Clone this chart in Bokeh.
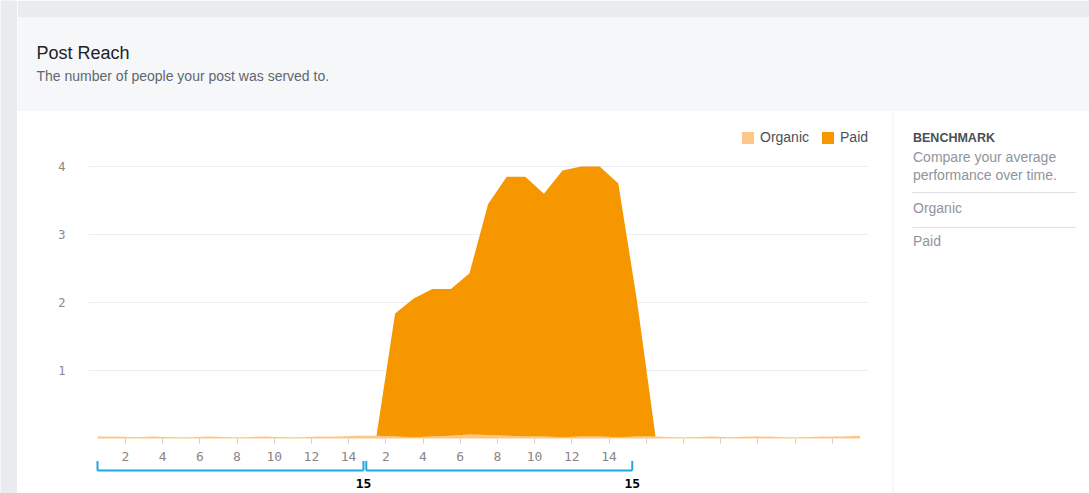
from bokeh.plotting import figure
from bokeh.models import ColumnDataSource, FixedTicker, Range1d
from bokeh.layouts import row, column
from bokeh.embed import file_html
from bokeh.resources import INLINE
from bokeh.core.properties import value

# ---------------- data ----------------
days = list(range(42))
organic = [0.03, 0.03, 0.02, 0.03, 0.02, 0.02, 0.03, 0.02, 0.02, 0.03, 0.02, 0.02,
           0.03, 0.03, 0.04, 0.04, 0.03, 0.02, 0.03, 0.04, 0.06, 0.05, 0.04, 0.03,
           0.03, 0.02, 0.03, 0.03, 0.02, 0.03, 0.03, 0.02, 0.02, 0.03, 0.02, 0.03,
           0.03, 0.02, 0.02, 0.03, 0.03, 0.04]
paid = ([0.0] * 16 +
        [1.81, 2.04, 2.17, 2.16, 2.37, 3.40, 3.81, 3.82, 3.57, 3.92, 3.97, 3.97, 3.73, 2.00] +
        [0.0] * 12)
series_names = ["Organic", "Paid"]

y_ticks = [1, 2, 3, 4]
x_tick_pos = [-0.5, 1.5, 3.5, 5.5, 7.5, 9.5, 11.5, 13.5, 15.5, 17.5, 19.5, 21.5,
              23.5, 25.5, 27.5, 29.5, 31.5, 33.5, 35.5, 37.5, 39.5, 41.5]
x_tick_labels = ["", "2", "4", "6", "8", "10", "12", "14", "2", "4", "6", "8",
                 "10", "12", "14", "", "", "", "", "", "", ""]

# period brackets (annotation, in day units)
bracket_start = [0.0, 14.45]
bracket_end = [14.3, 28.75]
bracket_text = ["15", "15"]

title_text = "Post Reach"
subtitle_text = "The number of people your post was served to."
panel_head = "BENCHMARK"
panel_desc = ["Compare your average", "performance over time."]
panel_items = ["Organic", "Paid"]

# ---------------- style ----------------
FONT = "Liberation Sans"
MONO = "DejaVu Sans Mono"
OUTER = "#e9ebee"
HEADER_BG = "#f6f7f9"
DIVIDER = "#dddfe2"
ORG_COLOR = "#fdc587"
PAID_COLOR = "#f79700"
BLUE = "#1ea7e4"

BODY_H = 382

# left grey strip
strip = figure(width=17, height=493, toolbar_location=None, output_backend="svg",
               min_border=0, x_axis_type=None, y_axis_type=None,
               x_range=Range1d(0, 1), y_range=Range1d(0, 1))
strip.background_fill_color = OUTER
strip.border_fill_color = OUTER
strip.outline_line_color = None

# header
header = figure(width=1072, height=111, toolbar_location=None, output_backend="svg",
                x_range=Range1d(0, 1072), y_range=Range1d(93, 0),
                min_border=0, min_border_top=17, min_border_bottom=1,
                min_border_left=0, min_border_right=0,
                x_axis_type=None, y_axis_type=None)
header.background_fill_color = HEADER_BG
header.border_fill_color = OUTER
header.outline_line_color = None
header.text(x=[19], y=[35], text=[title_text], text_font=value(FONT),
            text_font_size="18px", text_color="#1d2129",
            text_baseline="alphabetic", text_align="left")
header.text(x=[19], y=[58], text=[subtitle_text], text_font=value(FONT),
            text_font_size="14px", text_color="#606770",
            text_baseline="alphabetic", text_align="left")

# chart
src = ColumnDataSource(dict(day=days, organic=organic, paid=paid))
chart = figure(width=875, height=BODY_H, toolbar_location=None, output_backend="svg",
               x_range=Range1d(-0.484, 41.45), y_range=Range1d(-0.809, 4.809),
               min_border=0, min_border_left=71, min_border_right=24,
               min_border_top=0, min_border_bottom=0)
chart.background_fill_color = "white"
chart.border_fill_color = "white"
chart.outline_line_color = None

chart.varea_stack(stackers=["organic", "paid"], x="day",
                  color=[ORG_COLOR, PAID_COLOR], legend_label=series_names,
                  source=src)

chart.xgrid.visible = False
chart.ygrid.ticker = FixedTicker(ticks=y_ticks)
chart.ygrid.grid_line_color = "#ebedf0"
chart.ygrid.grid_line_width = 1

chart.yaxis.ticker = FixedTicker(ticks=y_ticks)
chart.yaxis.axis_line_color = None
chart.yaxis.major_tick_line_color = None
chart.yaxis.major_tick_out = 0
chart.yaxis.major_tick_in = 0
chart.yaxis.minor_tick_line_color = None
chart.yaxis.major_label_standoff = 23
chart.yaxis.major_label_text_font = MONO
chart.yaxis.major_label_text_font_size = "12px"
chart.yaxis.major_label_text_color = "#8a8686"

chart.xaxis.fixed_location = 0
chart.xaxis.ticker = FixedTicker(ticks=x_tick_pos)
chart.xaxis.major_label_overrides = {p: l for p, l in zip(x_tick_pos, x_tick_labels)}
chart.xaxis.axis_line_color = None
chart.xaxis.major_tick_in = 0
chart.xaxis.major_tick_out = 5
chart.xaxis.major_tick_line_color = "#d0d0d0"
chart.xaxis.minor_tick_line_color = None
chart.xaxis.major_label_standoff = 9
chart.xaxis.major_label_text_font = MONO
chart.xaxis.major_label_text_font_size = "13px"
chart.xaxis.major_label_text_color = "#8a8686"

# brackets
n_b = len(bracket_start)
chart.segment(x0=bracket_start, y0=[-0.47] * n_b, x1=bracket_end, y1=[-0.47] * n_b,
              line_color=BLUE, line_width=2)
chart.segment(x0=bracket_start, y0=[-0.47] * n_b, x1=bracket_start, y1=[-0.33] * n_b,
              line_color=BLUE, line_width=2)
chart.segment(x0=bracket_end, y0=[-0.47] * n_b, x1=bracket_end, y1=[-0.33] * n_b,
              line_color=BLUE, line_width=2)
chart.text(x=bracket_end, y=[-0.662] * n_b, text=bracket_text, text_font=value(MONO),
           text_font_size="13px", text_font_style="bold", text_color="black",
           text_align="center", text_baseline="middle")

leg = chart.legend[0]
leg.location = (652, BODY_H - 34)
leg.orientation = "horizontal"
leg.margin = 0
leg.padding = 0
leg.spacing = 11
leg.label_standoff = 5
leg.glyph_width = 15
leg.glyph_height = 15
leg.label_height = 15
leg.background_fill_alpha = 0
leg.border_line_alpha = 0
leg.label_text_font = FONT
leg.label_text_font_size = "14px"
leg.label_text_color = "#4b4f56"

# right panel
panel = figure(width=197, height=BODY_H, toolbar_location=None, output_backend="svg",
               x_range=Range1d(0, 196), y_range=Range1d(BODY_H, 0),
               min_border=0, min_border_left=1, min_border_right=0,
               min_border_top=0, min_border_bottom=0,
               x_axis_type=None, y_axis_type=None)
panel.background_fill_color = "white"
panel.border_fill_color = DIVIDER
panel.outline_line_color = None
panel.text(x=[19.5], y=[26], text=[panel_head], text_font=value(FONT),
           text_font_size="12.5px", text_font_style="bold", text_color="#4b4f56",
           text_baseline="alphabetic", text_align="left")
panel.text(x=[19.5, 19.5], y=[45, 63], text=panel_desc, text_font=value(FONT),
           text_font_size="14px", text_color="#90949c",
           text_baseline="alphabetic", text_align="left")
panel.segment(x0=[19, 19], y0=[81, 116], x1=[182, 182], y1=[81, 116],
              line_color=DIVIDER, line_width=1)
panel.text(x=[19.5, 19.5], y=[96, 129], text=panel_items, text_font=value(FONT),
           text_font_size="14px", text_color="#90949c",
           text_baseline="alphabetic", text_align="left")

layout = row(strip, column(header, row(chart, panel)))

open("out.html", "w").write(file_html(layout, INLINE))
